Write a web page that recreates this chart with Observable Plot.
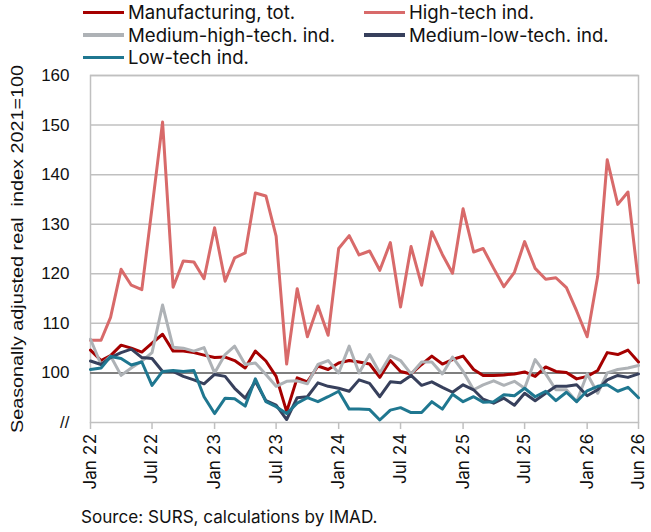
<!DOCTYPE html>
<html>
<head>
<meta charset="utf-8">
<script src="https://cdn.jsdelivr.net/npm/d3@7"></script>
<script src="https://cdn.jsdelivr.net/npm/@observablehq/plot@0.6"></script>
<style>
  body { margin: 0; background: #fff; font-family: Inter, "Noto Sans", sans-serif; color: #111; }
  #wrap { width: 651px; }
  #legend { height: 64px; box-sizing: border-box; padding-top: 1px; padding-left: 83px;
            display: grid; grid-template-columns: 281px auto; grid-auto-rows: 22.5px; font-size: 18.6px; }
  .item { display: flex; align-items: center; white-space: nowrap; }
  .sw { width: 41px; height: 3.5px; margin-right: 4px; flex: none; }
  #caption { font-size: 17.1px; margin-left: 81px; margin-top: 6px; line-height: 22px; }
</style>
</head>
<body>
<div id="wrap">
  <div id="legend"></div>
  <div id="chart"></div>
  <div id="caption">Source: SURS, calculations by IMAD.</div>
</div>
<script>
// ---- data (monthly, Jan 2022 – Jun 2026) ----
const startMonth = "2022-01-01";
const seriesNames = ["Manufacturing, tot.", "High-tech ind.", "Medium-high-tech. ind.", "Medium-low-tech. ind.", "Low-tech ind."];
const seriesColors = ["#A50000", "#D86A6A", "#AEB2B6", "#37405C", "#1F7790"];

const manufacturing = [104.6,102.5,103.5,105.6,105.0,104.2,106.0,107.8,104.4,104.4,104.1,103.6,103.1,103.2,102.5,101.0,104.4,102.4,99.3,92.2,99.0,98.2,101.4,100.7,102.0,102.5,102.2,101.8,99.1,102.5,100.3,99.8,101.7,103.4,101.8,102.7,103.4,100.7,99.5,99.5,99.6,99.8,100.2,99.3,101.2,100.3,100.1,98.8,99.3,100.5,104.1,103.7,104.6,102.2];
const highTech = [106.6,106.6,111.2,120.9,117.7,116.8,133.3,150.6,117.3,122.6,122.4,119.0,129.3,118.5,123.2,124.2,136.3,135.7,127.6,101.8,117.0,107.3,113.5,107.6,125.1,127.7,123.8,124.6,120.7,126.3,113.3,125.5,117.7,128.5,123.9,120.1,133.1,124.4,125.1,121.1,117.4,120.3,126.5,121.1,118.9,119.2,117.2,112.5,107.3,119.5,143.0,134.0,136.5,118.2];
const mediumHigh = [106.8,101.7,103.4,99.5,101.0,102.4,104.1,113.7,105.2,105.0,104.4,105.1,100.0,103.7,105.4,101.7,102.0,99.7,97.3,98.3,98.4,97.8,101.7,102.5,100.0,105.4,100.0,103.7,100.0,103.5,102.5,99.8,102.2,102.2,99.8,103.2,100.3,96.6,97.6,98.4,97.5,98.3,96.9,102.7,99.8,96.6,96.6,94.2,99.8,95.9,100.0,100.7,101.0,101.5];
const mediumLow = [102.4,101.7,103.1,104.1,104.8,103.1,102.9,100.3,100.3,99.3,98.6,97.8,99.7,99.3,96.9,94.9,98.3,94.4,93.5,90.6,95.0,95.2,98.0,97.3,96.9,96.3,98.6,97.9,95.2,98.2,98.0,99.5,97.5,98.2,97.1,96.1,97.6,96.6,94.7,93.9,94.9,93.5,95.9,94.4,95.9,97.3,97.3,97.6,95.4,96.6,98.6,99.5,99.1,99.8];
const lowTech = [100.7,101.0,103.3,102.9,101.6,102.2,97.5,100.3,100.5,100.3,100.5,95.2,91.8,94.9,94.8,93.3,98.8,94.2,93.2,91.8,93.9,95.0,94.2,95.2,96.3,92.7,92.7,92.6,90.5,92.5,93.0,92.0,92.0,94.2,92.7,95.7,94.2,95.2,94.1,94.2,95.6,95.4,96.9,95.2,96.3,94.4,96.1,94.2,96.4,97.3,97.6,96.3,97.1,95.0];

const xTickDates = ["2022-01-01","2022-07-01","2023-01-01","2023-07-01","2024-01-01","2024-07-01","2025-01-01","2025-07-01","2026-01-01","2026-06-01"];
const xTickLabels = ["Jan 22","Jul 22","Jan 23","Jul 23","Jan 24","Jul 24","Jan 25","Jul 25","Jan 26","Jun 26"];
const yTicks = [90,100,110,120,130,140,150,160];
const yTickLabels = ["//","100","110","120","130","140","150","160"];
const yTitle = "Seasonally adjusted real\u00a0\u00a0index 2021=100";

// ---- build table ----
const allSeries = [manufacturing, highTech, mediumHigh, mediumLow, lowTech];
const start = new Date(startMonth);
const table = [];
allSeries.forEach((vals, s) => vals.forEach((v, i) => table.push({
  date: d3.utcMonth.offset(start, i), value: v, series: seriesNames[s]
})));
const tickDates = xTickDates.map(d => new Date(d));
const xLabelMap = new Map(tickDates.map((d, i) => [+d, xTickLabels[i]]));
const yLabelMap = new Map(yTicks.map((d, i) => [d, yTickLabels[i]]));

// ---- legend ----
const legend = d3.select("#legend");
seriesNames.forEach((n, i) => {
  const it = legend.append("div").attr("class", "item");
  it.append("div").attr("class", "sw").style("background", seriesColors[i]);
  it.append("span").text(n);
});

// ---- chart ----
const arial = "'Liberation Sans', Arial, sans-serif";
const lastDate = d3.utcMonth.offset(start, manufacturing.length - 1);
const chart = Plot.plot({
  width: 651,
  height: 436,
  marginTop: 11,
  marginBottom: 78,
  marginLeft: 90,
  marginRight: 13,
  style: { fontFamily: "Inter, 'Noto Sans', sans-serif", fontSize: "17px", color: "#111", background: "#fff" },
  x: { type: "utc", domain: [start, lastDate] },
  y: { domain: [90, 160] },
  color: { domain: seriesNames, range: seriesColors },
  marks: [
    Plot.ruleY(yTicks.filter(d => d > 100), { stroke: "#c0c0c0", strokeWidth: 1.5 }),
    Plot.frame({ stroke: "#c0c0c0", strokeWidth: 1.5 }),
    Plot.ruleY([100], { stroke: "#7f7f7f", strokeWidth: 2 }),
    Plot.axisY({
      ticks: yTicks, tickFormat: d => yLabelMap.get(d), tickSize: 0, tickPadding: 21,
      label: yTitle, labelAnchor: "center", labelArrow: "none", labelOffset: 80,
      fill: "#111", fontFamily: arial
    }),
    Plot.axisX({
      ticks: tickDates, tickFormat: d => xLabelMap.get(+d), tickRotate: -90,
      tickSize: 7, tickPadding: 4, stroke: "#c0c0c0", strokeWidth: 1.5, label: null, fill: "#111"
    }),
    Plot.line(table, { x: "date", y: "value", z: "series", stroke: "series", strokeWidth: 3 })
  ]
});
document.getElementById("chart").appendChild(chart);

// stretch the y-axis title along its length to match the reference's proportions
const yLab = d3.select(chart).select('g[aria-label="y-axis label"] text');
if (!yLab.empty()) {
  yLab.style("font-family", arial)
      .attr("textLength", 368).attr("lengthAdjust", "spacingAndGlyphs");
}
</script>
</body>
</html>
